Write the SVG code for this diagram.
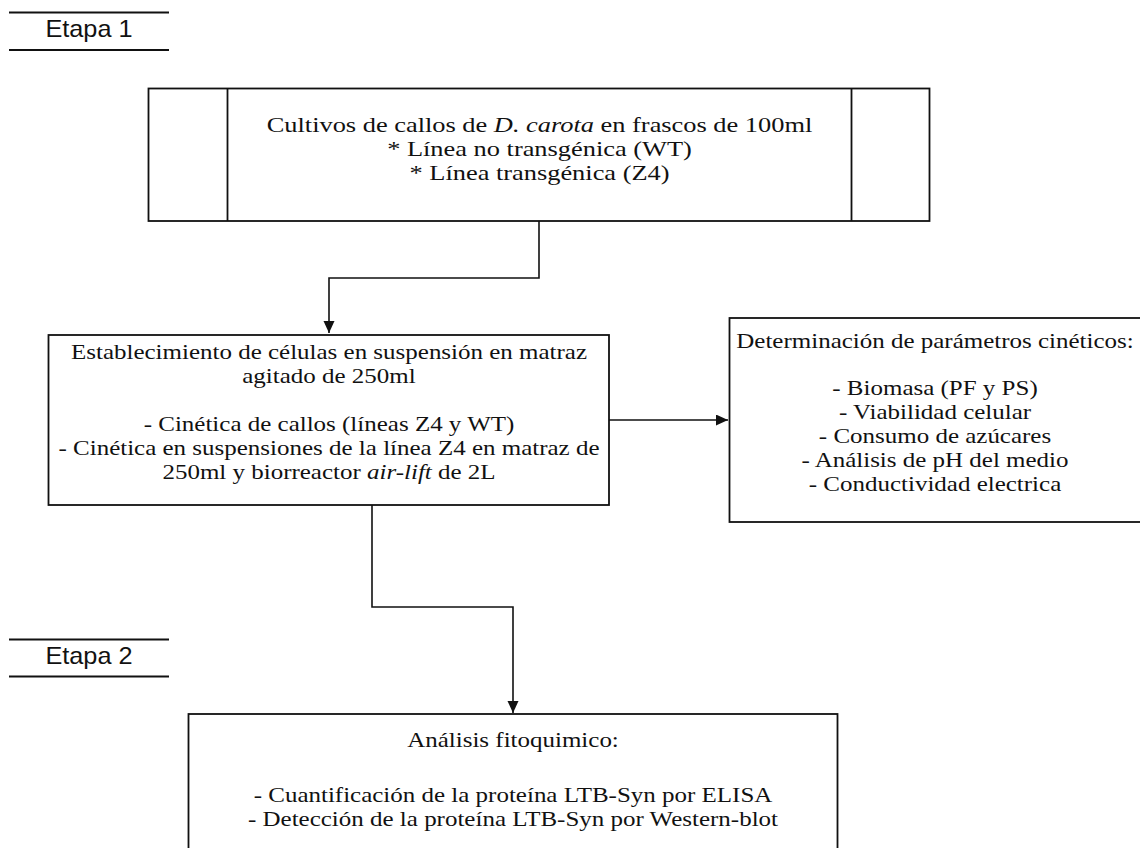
<svg xmlns="http://www.w3.org/2000/svg" width="1140" height="848" viewBox="0 0 1140 848">
<defs>
<style>
.box{fill:#fff;stroke:#111;stroke-width:1.8}
.rule{stroke:#111;stroke-width:2}
.conn{fill:none;stroke:#111;stroke-width:1.6}
.t{font-family:"Liberation Serif","Times New Roman",serif;font-size:22px;fill:#111;text-anchor:middle}
.s{font-family:"Liberation Sans",Arial,sans-serif;font-size:23px;fill:#111;text-anchor:middle}
</style>
<marker id="arr" markerUnits="userSpaceOnUse" markerWidth="13" markerHeight="12" refX="12" refY="5.5" orient="auto">
<path d="M0,0 L12,5.5 L0,11 z" fill="#111"/>
</marker>
</defs>
<rect width="1140" height="848" fill="#fff"/>
<g id="etapa1">
<line class="rule" x1="9" y1="12.5" x2="169" y2="12.5"/>
<line class="rule" x1="9" y1="50" x2="169" y2="50"/>
<g transform="translate(89 0) scale(1.1 1)"><text class="s" x="0" y="37">Etapa 1</text></g>
</g>
<g id="etapa2">
<line class="rule" x1="9" y1="639.5" x2="169" y2="639.5"/>
<line class="rule" x1="9" y1="676.5" x2="169" y2="676.5"/>
<g transform="translate(89 0) scale(1.1 1)"><text class="s" x="0" y="664">Etapa 2</text></g>
</g>
<g id="connectors">
<path class="conn" d="M539,221 V278 H329 V333" marker-end="url(#arr)"/>
<path class="conn" d="M609,420 H728" marker-end="url(#arr)"/>
<path class="conn" d="M372,505 V607 H513 V713" marker-end="url(#arr)"/>
</g>
<g id="cultivos">
<rect class="box" x="148.5" y="88.5" width="781" height="132.5"/>
<line class="box" x1="227.5" y1="88.5" x2="227.5" y2="221"/>
<line class="box" x1="851.5" y1="88.5" x2="851.5" y2="221"/>
<g transform="translate(539.5 0) scale(1.2 1)">
<text class="t" x="0" y="132.5">Cultivos de callos de <tspan font-style="italic">D. carota</tspan> en frascos de 100ml</text>
<text class="t" x="0" y="156.5">* Línea no transgénica (WT)</text>
<text class="t" x="0" y="180.5">* Línea transgénica (Z4)</text>
</g>
</g>
<g id="establecimiento">
<rect class="box" x="48.5" y="335" width="560.5" height="170"/>
<g transform="translate(329 0) scale(1.136 1)">
<text class="t" x="0" y="359.5">Establecimiento de células en suspensión en matraz</text>
<text class="t" x="0" y="383.5">agitado de 250ml</text>
<text class="t" x="0" y="431.5">- Cinética de callos (líneas Z4 y WT)</text>
<text class="t" x="0" y="455.5">- Cinética en suspensiones de la línea Z4 en matraz de</text>
<text class="t" x="0" y="479.5">250ml y biorreactor <tspan font-style="italic">air-lift</tspan> de 2L</text>
</g>
</g>
<g id="parametros">
<rect class="box" x="729.5" y="318" width="425" height="204"/>
<g transform="translate(935 0) scale(1.136 1)">
<text class="t" x="0" y="348.5">Determinación de parámetros cinéticos:</text>
<text class="t" x="0" y="395.5">- Biomasa (PF y PS)</text>
<text class="t" x="0" y="419.5">- Viabilidad celular</text>
<text class="t" x="0" y="443.5">- Consumo de azúcares</text>
<text class="t" x="0" y="467.5">- Análisis de pH del medio</text>
<text class="t" x="0" y="491.5">- Conductividad electrica</text>
</g>
</g>
<g id="fitoquimico">
<rect class="box" x="188.5" y="714" width="649" height="140"/>
<g transform="translate(513 0) scale(1.136 1)">
<text class="t" x="0" y="747.5">Análisis fitoquimico:</text>
<text class="t" x="0" y="802.5">- Cuantificación de la proteína LTB-Syn por ELISA</text>
<text class="t" x="0" y="826.5">- Detección de la proteína LTB-Syn por Western-blot</text>
</g>
</g>
</svg>
